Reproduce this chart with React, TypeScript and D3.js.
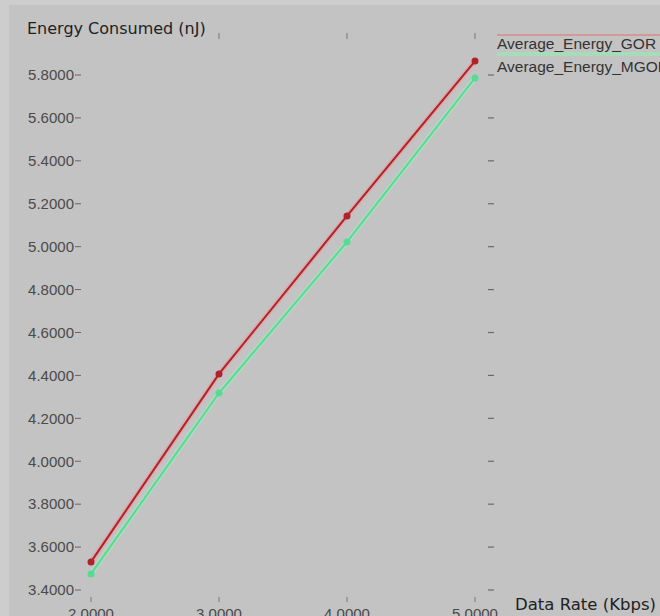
import React from "react";
import * as d3 from "d3";

const dataRates = [2, 3, 4, 5];
const gorEnergy = [3.531, 4.407, 5.143, 5.865];
const mgorEnergy = [3.475, 4.318, 5.022, 5.786];
const yTickValues = [3.4, 3.6, 3.8, 4.0, 4.2, 4.4, 4.6, 4.8, 5.0, 5.2, 5.4, 5.6, 5.8];
const xTickValues = [2, 3, 4, 5];
const seriesNames = ["Average_Energy_GOR", "Average_Energy_MGOR"];
const seriesColors = ["#b0222c", "#55dc92"];
const haloColors = ["#e89a9a", "#a6e8c2"];

const W = 660;
const H = 616;

export default function App() {
  const x = d3.scaleLinear().domain([2, 5]).range([91, 475]);
  const y = d3.scaleLinear().domain([3.4, 5.8]).range([590, 75]);
  const fmt = d3.format(".4f");
  const line = d3
    .line<number>()
    .x((_, i) => x(dataRates[i]))
    .y((d) => y(d));
  const series = [gorEnergy, mgorEnergy];
  const font = "'Liberation Sans', Arial, sans-serif";
  const titleFont = "'DejaVu Sans', Verdana, sans-serif";

  return (
    <svg
      width={W}
      height={H}
      style={{ position: "absolute", left: 0, top: 0, display: "block" }}
      fontFamily={font}
    >
      <rect x={0} y={0} width={W} height={H} fill="#c3c3c3" />
      <rect x={0} y={0} width={9} height={H} fill="#cdcdcd" />
      <rect x={0} y={0} width={W} height={5} fill="#cdcdcd" />

      {/* y-axis title */}
      <text x={27} y={34} fontSize={16} fill="#222" fontFamily={titleFont}>
        Energy Consumed (nJ)
      </text>

      {/* left y tick labels */}
      {yTickValues.map((v) => (
        <g key={"yl" + v}>
          <text
            x={74}
            y={y(v)}
            dy="0.35em"
            textAnchor="end"
            fontSize={15}
            fill="#4a4a4a"
          >
            {fmt(v)}
          </text>
          <line x1={75} x2={81} y1={y(v)} y2={y(v)} stroke="#666" strokeWidth={1} />
        </g>
      ))}

      {/* right y ticks */}
      {yTickValues.map((v) => (
        <line
          key={"yr" + v}
          x1={488}
          x2={494}
          y1={y(v)}
          y2={y(v)}
          stroke="#6a6a6a"
          strokeWidth={1.2}
        />
      ))}

      {/* top ticks */}
      {xTickValues.slice(1).map((v) => (
        <line
          key={"xt" + v}
          x1={x(v)}
          x2={x(v)}
          y1={33}
          y2={39}
          stroke="#777"
          strokeWidth={1}
        />
      ))}

      {/* bottom ticks + labels */}
      {xTickValues.map((v) => (
        <g key={"xb" + v}>
          <line x1={x(v)} x2={x(v)} y1={597} y2={602} stroke="#777" strokeWidth={1} />
          <text
            x={x(v)}
            y={619}
            textAnchor="middle"
            fontSize={15}
            fill="#4a4a4a"
          >
            {fmt(v)}
          </text>
        </g>
      ))}

      {/* x-axis title */}
      <text x={515} y={610} fontSize={16.5} fill="#222" fontFamily={titleFont}>
        Data Rate (Kbps)
      </text>

      {/* series */}
      {series.map((s, si) => (
        <g key={"s" + si}>
          <path
            d={line(s) || ""}
            fill="none"
            stroke={haloColors[si]}
            strokeWidth={5}
            strokeOpacity={0.6}
          />
          <path
            d={line(s) || ""}
            fill="none"
            stroke={seriesColors[si]}
            strokeWidth={2}
          />
          {s.map((v, i) => (
            <circle
              key={i}
              cx={x(dataRates[i])}
              cy={y(v)}
              r={3.5}
              fill={seriesColors[si]}
            />
          ))}
        </g>
      ))}

      {/* legend */}
      {seriesNames.map((name, i) => (
        <g key={"lg" + i}>
          <line
            x1={497}
            x2={W}
            y1={35 + i * 19}
            y2={35 + i * 19}
            stroke={i === 0 ? "#d98b8b" : "#a6dcb8"}
            strokeWidth={i === 0 ? 1.5 : 4}
          />
          <text x={497} y={49 + i * 23} fontSize={15.5} fill="#333">
            {name}
          </text>
        </g>
      ))}
    </svg>
  );
}
